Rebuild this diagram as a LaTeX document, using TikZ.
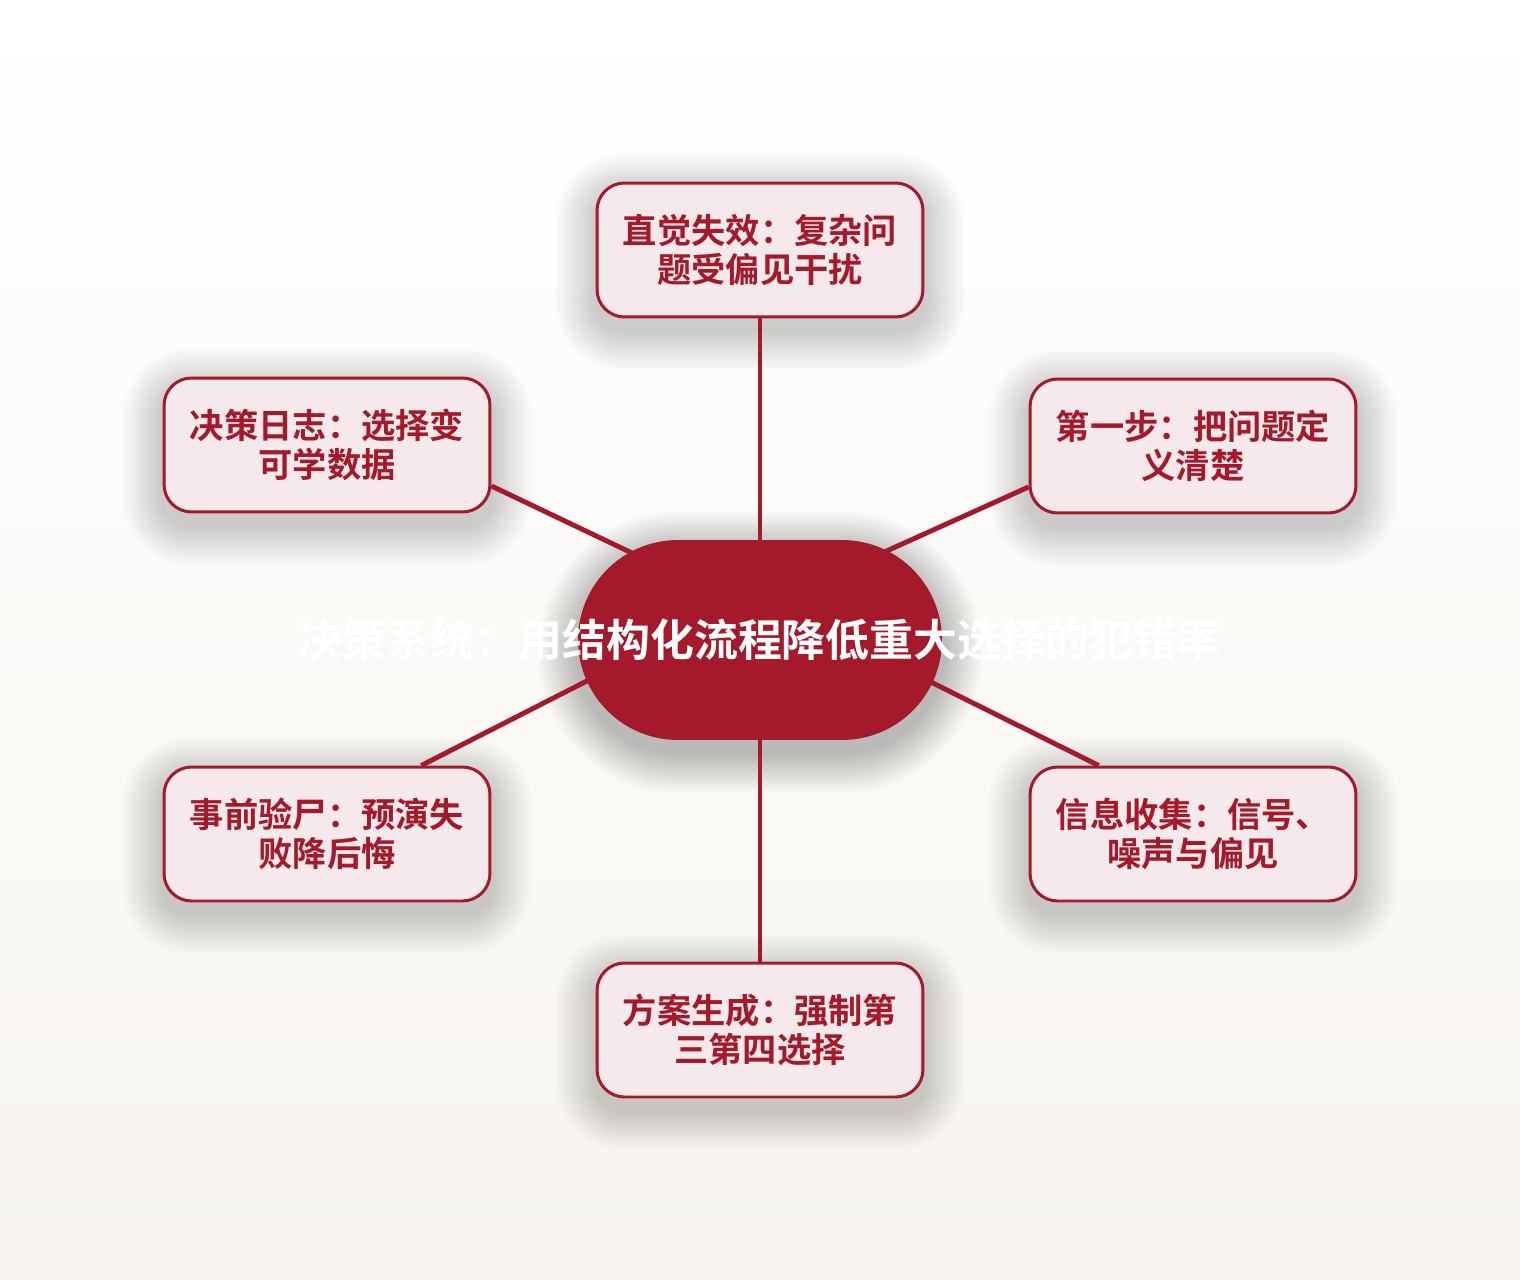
\documentclass[tikz,border=0pt]{standalone}
\usepackage{fontspec}
\newfontfamily\cjk{Noto Sans CJK SC}[BoldFont={Noto Sans CJK SC Bold}]
\definecolor{deepred}{RGB}{165,26,42}
\definecolor{boxpink}{RGB}{245,233,236}
\definecolor{paperbot}{RGB}{247,244,239}
\pgfdeclarelayer{bg}
\pgfdeclarelayer{edges}
\pgfsetlayers{bg,edges,main}
\begin{document}
\begin{tikzpicture}[x=0.02cm, y=-0.02cm,
    idea/.style={draw=deepred, line width=1.7pt, fill=boxpink, rounded corners=0.55cm,
      minimum width=6.52cm, minimum height=2.68cm, align=center, text=deepred,
      font=\cjk\bfseries\fontsize{19.5pt}{22.5pt}\selectfont},
    hub/.style={fill=deepred, rounded corners=2cm, minimum width=7.28cm, minimum height=4cm},
    spoke/.style={deepred, line width=2.8pt}]
   \node[hub] (hub) at (760,640) {};
   \node[text=white, font=\cjk\bfseries\fontsize{25pt}{28pt}\selectfont] (title) at (hub) {决策系统：用结构化流程降低重大选择的犯错率};
   \node[idea] (intuit) at (760,250) {直觉失效：复杂问\\题受偏见干扰};
   \node[idea] (define) at (1193,446) {第一步：把问题定\\义清楚};
   \node[idea] (gather) at (1193,834) {信息收集：信号、\\噪声与偏见};
   \node[idea] (options) at (760,1030) {方案生成：强制第\\三第四选择};
   \node[idea] (premortem) at (327,834) {事前验尸：预演失\\败降后悔};
   \node[idea] (journal) at (327,445) {决策日志：选择变\\可学数据};
   \begin{pgfonlayer}{bg}
      \shade[top color=white, bottom color=paperbot] (0,0) rectangle (1520,1280);
      \foreach \n in {intuit,define,gather,options,premortem,journal}
         \foreach \g in {1,...,16}
            \fill[black, opacity=0.013, rounded corners={0.55cm+\g*0.05cm}]
               ([shift={(-\g*2.5,12-\g*2.5)}]\n.north west) rectangle ([shift={(\g*2.5,12+\g*2.5)}]\n.south east);
      \foreach \g in {1,...,16}
         \fill[black, opacity=0.016, rounded corners={2cm+\g*0.05cm}]
            ([shift={(-\g*2.5,12-\g*2.5)}]hub.north west) rectangle ([shift={(\g*2.5,12+\g*2.5)}]hub.south east);
   \end{pgfonlayer}
   \begin{pgfonlayer}{edges}
      \draw[spoke] (intuit) -- (hub);
      \draw[spoke] (define.194) -- ([shift={(40,-50)}]hub.center);
      \draw[spoke] (gather.144) -- ([shift={(40,-23)}]hub.center);
      \draw[spoke] (options) -- (hub);
      \draw[spoke] (premortem.36) -- ([shift={(-40,-27)}]hub.center);
      \draw[spoke] (journal.-14) -- ([shift={(-40,-45)}]hub.center);
   \end{pgfonlayer}
\end{tikzpicture}
\end{document}
